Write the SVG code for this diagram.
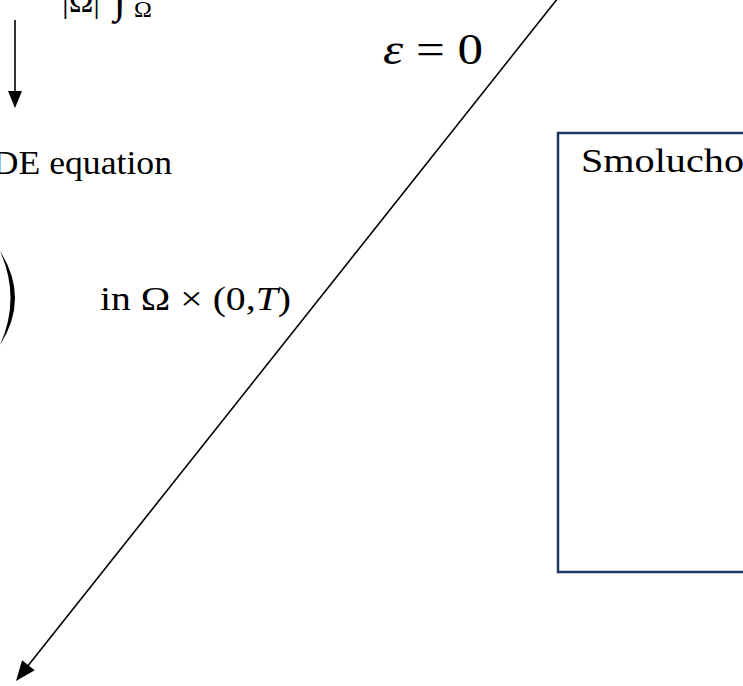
<svg xmlns="http://www.w3.org/2000/svg" width="743" height="686" viewBox="0 0 743 686">
  <style>
    .t { font-family: "Liberation Serif", "Times New Roman", serif; fill: #000; }
    .ln { stroke: #000; stroke-width: 1.6; fill: none; }
  </style>
  <rect x="0" y="0" width="743" height="686" fill="#fff"/>

  <g id="avg-formula">
    <text class="t" x="62" y="12" font-size="34" textLength="38" lengthAdjust="spacingAndGlyphs">|Ω|</text>
    <text class="t" x="114" y="12" font-size="44" font-style="italic">∫</text>
    <text class="t" x="134" y="17" font-size="24">Ω</text>
  </g>

  <g id="pde-node">
    <text class="t" x="172" y="174" font-size="34" text-anchor="end" textLength="205" lengthAdjust="spacingAndGlyphs">ODE equation</text>
    <path d="M0 251 Q30 298 0 345 Q21 298 0 251 Z" fill="#000"/>
    <text class="t" x="100" y="310" font-size="33" textLength="191" lengthAdjust="spacingAndGlyphs">in Ω × (0,<tspan font-style="italic">T</tspan>)</text>
  </g>

  <g id="smoluchowski-node">
    <rect x="558" y="133" width="200" height="439" fill="none" stroke="#1f3763" stroke-width="2.5"/>
    <text class="t" x="581" y="172" font-size="34" textLength="163" lengthAdjust="spacingAndGlyphs">Smolucho</text>
  </g>

  <g id="connectors">
    <line class="ln" x1="15" y1="20" x2="15" y2="92"/>
    <polygon points="15,108 8,91 22,91" fill="#000"/>
    <line class="ln" x1="558" y1="-2" x2="27" y2="667"/>
    <polygon points="16,681 34.7,670.3 22.1,660.3" fill="#000"/>
    <text class="t" x="383" y="64" font-size="44" textLength="100" lengthAdjust="spacingAndGlyphs"><tspan font-style="italic">ε</tspan> = 0</text>
  </g>
</svg>
